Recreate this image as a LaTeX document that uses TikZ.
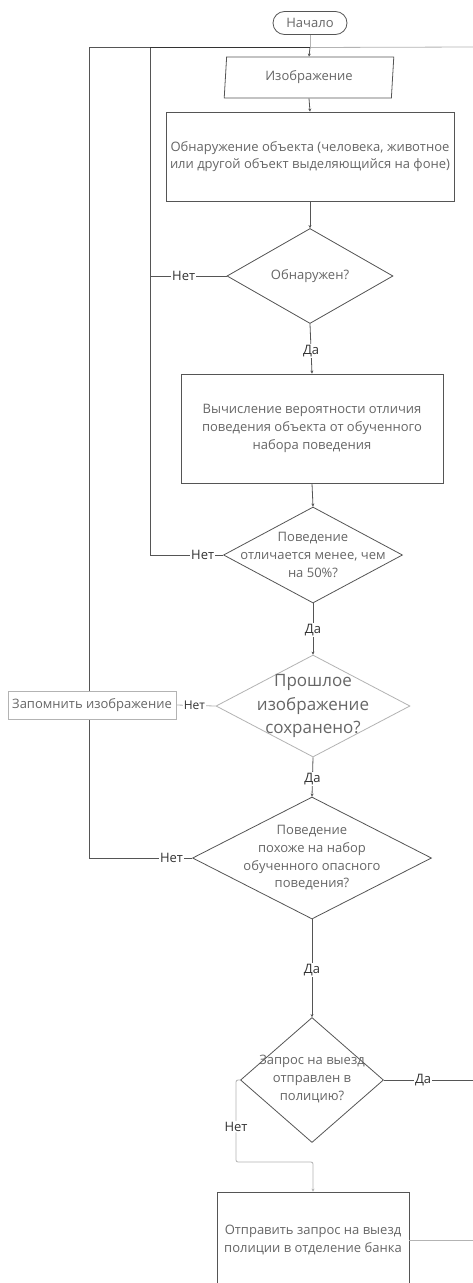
\documentclass[tikz,border=0pt]{standalone}
\usepackage{fontspec}
\setmainfont{Open Sans}
\usetikzlibrary{shapes.geometric,arrows.meta,calc}
\definecolor{ln}{HTML}{555555}
\definecolor{lgt}{HTML}{B3B3B3}
\definecolor{txt}{HTML}{666666}
\definecolor{lbt}{HTML}{333333}
\begin{document}
\begin{tikzpicture}[x=1pt,y=-1pt,
  base/.style={draw=ln, line width=0.8pt, fill=white, text=txt, font=\fontsize{13}{17.7}\selectfont, align=center, inner sep=0pt},
  box/.style={base, rectangle},
  dia/.style={base, diamond, aspect=1},
  dtext/.style={text=txt, font=\fontsize{13}{17.7}\selectfont, align=center, inner sep=0pt},
  lbl/.style={fill=white, text=lbt, font=\fontsize{13}{15}\selectfont, inner sep=1pt},
  con/.style={draw=ln, line width=0.8pt},
  arr/.style={con, -{Stealth[length=3pt,width=3pt]}},
  gcon/.style={draw=lgt, line width=0.8pt},
]
\useasboundingbox (0,0) rectangle (473,1283);
\clip (0,0) rectangle (473,1283);
\fill[white] (0,0) rectangle (473,1283);

% nodes
\node[box, rounded corners=11.5pt, minimum width=74pt, minimum height=23pt] (start) at (310,23) {Начало};
\node[base, trapezium, trapezium left angle=84.4, trapezium right angle=95.6, trapezium stretches=true, minimum width=170pt, minimum height=41pt] (img) at (309,77.5) {Изображение};
\node[box, minimum width=288pt, minimum height=89pt] (det) at (310,156.5) {Обнаружение объекта (человека, животное\\или другой объект выделяющийся на фоне)};
\node[dia, minimum width=166pt, minimum height=95pt] (d1) at (310,276) {};
\node[dtext] (d1t) at (d1.center) {Обнаружен?};
\node[box, minimum width=262pt, minimum height=109pt] (r2) at (312,428.5) {Вычисление вероятности отличия\\поведения объекта от обученного\\набора поведения};
\node[dia, minimum width=179pt, minimum height=96pt] (d2) at (313,555) {};
\node[dtext] (d2t) at (d2.center) {Поведение\\отличается менее, чем\\на 50\%?};
\node[dia, draw=lgt, minimum width=194pt, minimum height=102pt] (d3) at (313,706) {};
\node[dtext, font=\fontsize{17}{23.5}\selectfont] (d3t) at (d3.center) {Прошлое\\изображение\\сохранено?};
\node[dia, minimum width=239pt, minimum height=122pt] (d4) at (312,858) {};
\node[dtext] (d4t) at (d4.center) {Поведение\\похоже на набор\\обученного опасного\\поведения?};
\node[dia, minimum width=143pt, minimum height=125pt] (d5) at (312,1080) {};
\node[dtext] (d5t) at ([yshift=1pt]d5.center) {Запрос на выезд\\отправлен в\\полицию?};
\node[box, minimum width=192pt, minimum height=96pt] (r3) at (313,1240) {Отправить запрос на выезд\\полиции в отделение банка};

% coordinates
\coordinate (jA) at (310,47.5);
\coordinate (eTop) at (473,47);
\coordinate (c1) at (150,276);
\coordinate (c2) at (150,555);
\coordinate (c4) at (89,858);
\coordinate (eD) at (473,1080);
\coordinate (eR3) at (473,1240);
\coordinate (n5a) at (236,1080);
\coordinate (n5b) at (236,1162);
\coordinate (n5c) at (313,1162);

% connectors
\draw[gcon] (jA) -- (eTop);
\draw[gcon] (start.south) -- (jA);
\draw[arr] (jA) -- (img.north);
\draw[arr] (img.south) -- (det.north);
\draw[arr] (det.south) -- (d1.north);
\draw[arr] (d1.south) -- node[lbl, pos=0.55]{Да} (r2.north);
\draw[con] (d1.west) -- node[lbl, pos=0.56]{Нет} (c1);
\draw[con] (d2.west) -- node[lbl, pos=0.28]{Нет} (c2) -- (c2 |- jA);
\draw[con, line width=1.4pt, draw=black!80] (c2 |- jA) -- (jA);
\draw[arr] (r2.south) -- (d2.north);
\draw[arr] (d2.south) -- node[lbl, pos=0.52]{Да} (d3.north);
\draw[arr] (d3.south) -- node[lbl, pos=0.55]{Да} (d4.north);
\draw[con] (d4.west) -- node[lbl, pos=0.2]{Нет} (c4) -- (c4 |- jA) -- (c2 |- jA);
\draw[arr] (d4.south) -- node[lbl, pos=0.52]{Да} (d5.north);
\draw[con] (d5.east) -- node[lbl, pos=0.44]{Да} (eD);
\draw[gcon, rounded corners=2pt, -{Stealth[length=3pt,width=3pt]}] (d5.west) -- (n5a) -- node[lbl, pos=0.57]{Нет} (n5b) -- (n5c) -- (r3.north);
\draw[gcon] (r3.east) -- (eR3);

% memory box on top of the loop line
\node[box, draw=lgt, minimum width=168pt, minimum height=28pt] (mem) at (92,705) {Запомнить изображение};
\draw[gcon] (d3.west) -- node[lbl, pos=0.54, font=\fontsize{12}{14}\selectfont]{Нет} (mem.east);
\end{tikzpicture}
\end{document}
